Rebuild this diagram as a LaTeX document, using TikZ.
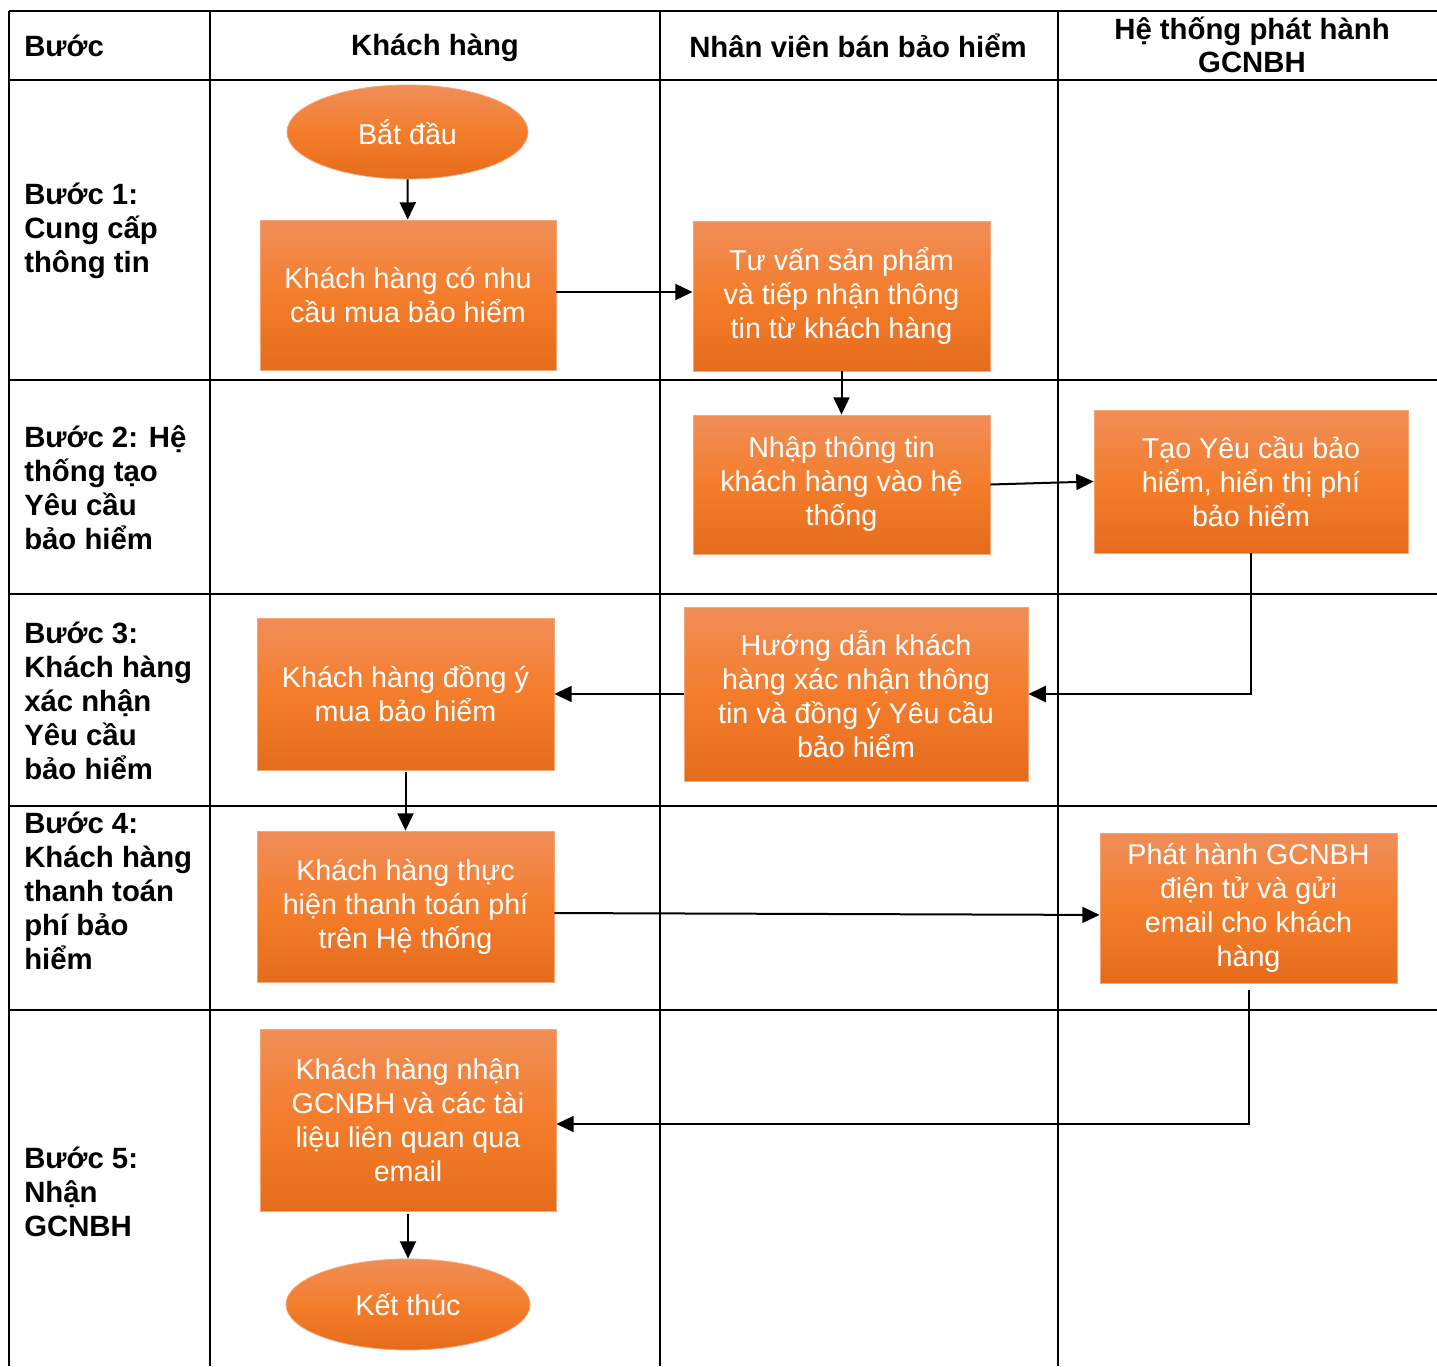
\documentclass[tikz,border=0pt]{standalone}
\usepackage{fontspec}
\setmainfont{Liberation Sans}
\usetikzlibrary{arrows.meta,shapes.geometric}
\definecolor{otop}{RGB}{240,142,88}
\definecolor{omid}{RGB}{244,125,44}
\definecolor{obot}{RGB}{229,108,28}
\definecolor{oline}{RGB}{245,165,118}
\tikzset{
  gridline/.style={line width=1.5pt, black},
  orangefill/.style={draw=oline, line width=0.6pt, top color=otop, bottom color=obot, middle color=omid,
    text=white, font=\fontsize{21.5}{25.5}\selectfont, align=center, inner sep=0pt},
  proc/.style={rectangle, orangefill},
  term/.style={ellipse, orangefill},
  arr/.style={line width=1.5pt, -{Triangle[length=13pt,width=12pt]}},
  lbl/.style={font=\bfseries\fontsize{22}{25.5}\selectfont, align=left, anchor=west, inner sep=0pt},
  hdr/.style={font=\bfseries\fontsize{22}{24.8}\selectfont, align=center, inner sep=0pt}
}
\begin{document}
\begin{tikzpicture}[x=0.75pt,y=-0.75pt]
\useasboundingbox (0,0) rectangle (1437,1366);
% grid
\draw[gridline] (9,11) -- (1437,11);
\draw[gridline] (9,80) -- (1437,80);
\draw[gridline] (9,380) -- (1437,380);
\draw[gridline] (9,594) -- (1437,594);
\draw[gridline] (9,806) -- (1437,806);
\draw[gridline] (9,1010) -- (1437,1010);
\draw[gridline] (9,11) -- (9,1366);
\draw[gridline] (210,11) -- (210,1366);
\draw[gridline] (660,11) -- (660,1366);
\draw[gridline] (1058,11) -- (1058,1366);
% headers
\node[lbl] (hstep) at (24,46) {Bước};
\node[hdr] (hcust) at (435,48) {Khách hàng};
\node[hdr] (hstaff) at (858,46) {Nhân viên bán bảo hiểm};
\node[hdr] (hsys) at (1252,45) {Hệ thống phát hành\\GCNBH};
% step labels
\node[lbl] (s1) at (24,231) {Bước 1:\\Cung cấp\\thông tin};
\node[lbl] (s2) at (24,488) {Bước 2: Hệ\\thống tạo\\Yêu cầu\\bảo hiểm};
\node[lbl] (s3) at (24,701) {Bước 3:\\Khách hàng\\xác nhận\\Yêu cầu\\bảo hiểm};
\node[lbl] (s4) at (24,891) {Bước 4:\\Khách hàng\\thanh toán\\phí bảo\\hiểm};
\node[lbl] (s5) at (24,1192) {Bước 5:\\Nhận\\GCNBH};
% flow nodes
\node[term, minimum width=180.75pt, minimum height=70.5pt] (start) at (407.5,132) {Bắt đầu};
\node[proc, minimum width=222pt, minimum height=112.5pt] (b1) at (408,295) {Khách hàng có nhu\\cầu mua bảo hiểm};
\node[proc, minimum width=222.75pt, minimum height=112.5pt] (b2) at (841.5,296) {Tư vấn sản phẩm\\và tiếp nhận thông\\tin từ khách hàng};
\node[proc, minimum width=222.75pt, minimum height=104.25pt] (b3) at (841.5,484.5) {Nhập thông tin\\khách hàng vào hệ\\thống};
\node[proc, minimum width=235.5pt, minimum height=107.25pt] (b4) at (1251,481.5) {Tạo Yêu cầu bảo\\hiểm, hiển thị phí\\bảo hiểm};
\node[proc, minimum width=258pt, minimum height=130.5pt] (b5) at (856,694) {Hướng dẫn khách\\hàng xác nhận thông\\tin và đồng ý Yêu cầu\\bảo hiểm};
\node[proc, minimum width=222.75pt, minimum height=114pt] (b6) at (405.5,694) {Khách hàng đồng ý\\mua bảo hiểm};
\node[proc, minimum width=222.75pt, minimum height=113.25pt] (b7) at (405.5,906.5) {Khách hàng thực\\hiện thanh toán phí\\trên Hệ thống};
\node[proc, minimum width=222.75pt, minimum height=112.5pt] (b8) at (1248.5,908) {Phát hành GCNBH\\điện tử và gửi\\email cho khách\\hàng};
\node[proc, minimum width=222pt, minimum height=136.5pt] (b9) at (408,1120) {Khách hàng nhận\\GCNBH và các tài\\liệu liên quan qua\\email};
\node[term, minimum width=183pt, minimum height=68.25pt] (end) at (408,1304.5) {Kết thúc};
% connectors
\draw[arr] (start) -- (b1);
\draw[arr] ([yshift=2.25pt]b1.east) -- ([yshift=3pt]b2.west);
\draw[arr] (b2) -- (b3);
\draw[arr] (b3.east) -- (b4.west);
\draw[arr] (b4.south) |- (b5.east);
\draw[arr] (b5.west) -- (b6.east);
\draw[arr] ([yshift=-1.5pt]b6.south) -- (b7.north);
\draw[arr] ([yshift=-4.9pt]b7.east) -- ([yshift=-5.2pt]b8.west);
\draw[arr] ([yshift=-5pt]b8.south) |- ([yshift=-3pt]b9.east);
\draw[arr] ([yshift=-2pt]b9.south) -- (end.north);
\end{tikzpicture}
\end{document}
